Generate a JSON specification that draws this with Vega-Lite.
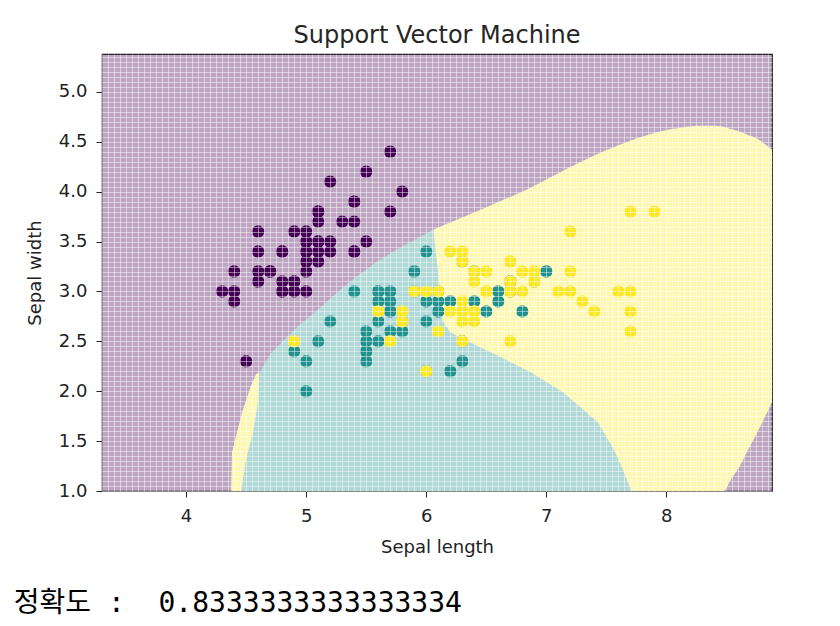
{
  "$schema": "https://vega.github.io/schema/vega-lite/v6.json",
  "padding": {"left": 13, "top": 23, "right": 40, "bottom": 5},
  "background": "white",
  "config": {
    "view": {"fill": "#bea6c3", "stroke": "#222222", "strokeWidth": 1.2},
    "font": "DejaVu Sans",
    "axis": {"labelFont": "DejaVu Sans", "titleFont": "DejaVu Sans"}
  },
  "title": {
    "text": "정확도 :\u00a0\u00a00.8333333333333334",
    "orient": "bottom",
    "anchor": "start",
    "font": "DejaVu Sans Mono, Noto Sans CJK KR",
    "fontSize": 28,
    "fontWeight": "normal",
    "color": "#000000",
    "offset": 33,
    "dx": -12
  },
  "datasets": {
    "regions": [
      {"region": "yellow", "x": 6.06, "hi": 3.62, "lo": 1.0},
      {"region": "yellow", "x": 6.28, "hi": 3.73, "lo": 1.0},
      {"region": "yellow", "x": 6.53, "hi": 3.86, "lo": 1.0},
      {"region": "yellow", "x": 6.87, "hi": 4.04, "lo": 1.0},
      {"region": "yellow", "x": 7.14, "hi": 4.21, "lo": 1.0},
      {"region": "yellow", "x": 7.45, "hi": 4.39, "lo": 1.0},
      {"region": "yellow", "x": 7.7, "hi": 4.51, "lo": 1.0},
      {"region": "yellow", "x": 7.975, "hi": 4.61, "lo": 1.0},
      {"region": "yellow", "x": 8.12, "hi": 4.64, "lo": 1.0},
      {"region": "yellow", "x": 8.26, "hi": 4.66, "lo": 1.0},
      {"region": "yellow", "x": 8.39, "hi": 4.66, "lo": 1.0},
      {"region": "yellow", "x": 8.48, "hi": 4.65, "lo": 1.0},
      {"region": "yellow", "x": 8.53, "hi": 4.63, "lo": 1.1},
      {"region": "yellow", "x": 8.617, "hi": 4.6, "lo": 1.26},
      {"region": "yellow", "x": 8.675, "hi": 4.57, "lo": 1.4},
      {"region": "yellow", "x": 8.758, "hi": 4.53, "lo": 1.59},
      {"region": "yellow", "x": 8.783, "hi": 4.51, "lo": 1.65},
      {"region": "yellow", "x": 8.88, "hi": 4.42, "lo": 1.89},
      {"region": "sliver", "x": 4.375, "hi": 1.0, "lo": 1.0},
      {"region": "sliver", "x": 4.383, "hi": 1.39, "lo": 1.0},
      {"region": "sliver", "x": 4.467, "hi": 1.79, "lo": 1.0},
      {"region": "sliver", "x": 4.542, "hi": 2.06, "lo": 1.0},
      {"region": "sliver", "x": 4.583, "hi": 2.17, "lo": 1.0},
      {"region": "sliver", "x": 4.61, "hi": 2.19, "lo": 1.0},
      {"region": "teal", "x": 4.46, "hi": 1.0, "lo": 1.0},
      {"region": "teal", "x": 4.5, "hi": 1.32, "lo": 1.0},
      {"region": "teal", "x": 4.56, "hi": 1.6, "lo": 1.0},
      {"region": "teal", "x": 4.6, "hi": 1.9, "lo": 1.0},
      {"region": "teal", "x": 4.61, "hi": 2.18, "lo": 1.0},
      {"region": "teal", "x": 4.7, "hi": 2.37, "lo": 1.0},
      {"region": "teal", "x": 4.83, "hi": 2.53, "lo": 1.0},
      {"region": "teal", "x": 4.95, "hi": 2.67, "lo": 1.0},
      {"region": "teal", "x": 5.1, "hi": 2.82, "lo": 1.0},
      {"region": "teal", "x": 5.25, "hi": 2.98, "lo": 1.0},
      {"region": "teal", "x": 5.41, "hi": 3.14, "lo": 1.0},
      {"region": "teal", "x": 5.58, "hi": 3.29, "lo": 1.0},
      {"region": "teal", "x": 5.74, "hi": 3.41, "lo": 1.0},
      {"region": "teal", "x": 5.91, "hi": 3.52, "lo": 1.0},
      {"region": "teal", "x": 6.06, "hi": 3.62, "lo": 1.0},
      {"region": "teal", "x": 6.08, "hi": 3.39, "lo": 1.0},
      {"region": "teal", "x": 6.1, "hi": 3.19, "lo": 1.0},
      {"region": "teal", "x": 6.12, "hi": 2.94, "lo": 1.0},
      {"region": "teal", "x": 6.135, "hi": 2.71, "lo": 1.0},
      {"region": "teal", "x": 6.2, "hi": 2.59, "lo": 1.0},
      {"region": "teal", "x": 6.31, "hi": 2.52, "lo": 1.0},
      {"region": "teal", "x": 6.59, "hi": 2.36, "lo": 1.0},
      {"region": "teal", "x": 6.87, "hi": 2.19, "lo": 1.0},
      {"region": "teal", "x": 7.14, "hi": 1.99, "lo": 1.0},
      {"region": "teal", "x": 7.43, "hi": 1.69, "lo": 1.0},
      {"region": "teal", "x": 7.56, "hi": 1.42, "lo": 1.0},
      {"region": "teal", "x": 7.63, "hi": 1.24, "lo": 1.0},
      {"region": "teal", "x": 7.71, "hi": 1.0, "lo": 1.0}
    ],
    "iris": [
      {"sl": 5.1, "sw": 3.5, "c": 0}, {"sl": 4.9, "sw": 3.0, "c": 0}, {"sl": 4.7, "sw": 3.2, "c": 0}, {"sl": 4.6, "sw": 3.1, "c": 0}, {"sl": 5.0, "sw": 3.6, "c": 0},
      {"sl": 5.4, "sw": 3.9, "c": 0}, {"sl": 4.6, "sw": 3.4, "c": 0}, {"sl": 5.0, "sw": 3.4, "c": 0}, {"sl": 4.4, "sw": 2.9, "c": 0}, {"sl": 4.9, "sw": 3.1, "c": 0},
      {"sl": 5.4, "sw": 3.7, "c": 0}, {"sl": 4.8, "sw": 3.4, "c": 0}, {"sl": 4.8, "sw": 3.0, "c": 0}, {"sl": 4.3, "sw": 3.0, "c": 0}, {"sl": 5.8, "sw": 4.0, "c": 0},
      {"sl": 5.7, "sw": 4.4, "c": 0}, {"sl": 5.4, "sw": 3.9, "c": 0}, {"sl": 5.1, "sw": 3.5, "c": 0}, {"sl": 5.7, "sw": 3.8, "c": 0}, {"sl": 5.1, "sw": 3.8, "c": 0},
      {"sl": 5.4, "sw": 3.4, "c": 0}, {"sl": 5.1, "sw": 3.7, "c": 0}, {"sl": 4.6, "sw": 3.6, "c": 0}, {"sl": 5.1, "sw": 3.3, "c": 0}, {"sl": 4.8, "sw": 3.4, "c": 0},
      {"sl": 5.0, "sw": 3.0, "c": 0}, {"sl": 5.0, "sw": 3.4, "c": 0}, {"sl": 5.2, "sw": 3.5, "c": 0}, {"sl": 5.2, "sw": 3.4, "c": 0}, {"sl": 4.7, "sw": 3.2, "c": 0},
      {"sl": 4.8, "sw": 3.1, "c": 0}, {"sl": 5.4, "sw": 3.4, "c": 0}, {"sl": 5.2, "sw": 4.1, "c": 0}, {"sl": 5.5, "sw": 4.2, "c": 0}, {"sl": 4.9, "sw": 3.1, "c": 0},
      {"sl": 5.0, "sw": 3.2, "c": 0}, {"sl": 5.5, "sw": 3.5, "c": 0}, {"sl": 4.9, "sw": 3.6, "c": 0}, {"sl": 4.4, "sw": 3.0, "c": 0}, {"sl": 5.1, "sw": 3.4, "c": 0},
      {"sl": 5.0, "sw": 3.5, "c": 0}, {"sl": 4.5, "sw": 2.3, "c": 0}, {"sl": 4.4, "sw": 3.2, "c": 0}, {"sl": 5.0, "sw": 3.5, "c": 0}, {"sl": 5.1, "sw": 3.8, "c": 0},
      {"sl": 4.8, "sw": 3.0, "c": 0}, {"sl": 5.1, "sw": 3.8, "c": 0}, {"sl": 4.6, "sw": 3.2, "c": 0}, {"sl": 5.3, "sw": 3.7, "c": 0}, {"sl": 5.0, "sw": 3.3, "c": 0},
      {"sl": 7.0, "sw": 3.2, "c": 1}, {"sl": 6.4, "sw": 3.2, "c": 1}, {"sl": 6.9, "sw": 3.1, "c": 1}, {"sl": 5.5, "sw": 2.3, "c": 1}, {"sl": 6.5, "sw": 2.8, "c": 1},
      {"sl": 5.7, "sw": 2.8, "c": 1}, {"sl": 6.3, "sw": 3.3, "c": 1}, {"sl": 4.9, "sw": 2.4, "c": 1}, {"sl": 6.6, "sw": 2.9, "c": 1}, {"sl": 5.2, "sw": 2.7, "c": 1},
      {"sl": 5.0, "sw": 2.0, "c": 1}, {"sl": 5.9, "sw": 3.0, "c": 1}, {"sl": 6.0, "sw": 2.2, "c": 1}, {"sl": 6.1, "sw": 2.9, "c": 1}, {"sl": 5.6, "sw": 2.9, "c": 1},
      {"sl": 6.7, "sw": 3.1, "c": 1}, {"sl": 5.6, "sw": 3.0, "c": 1}, {"sl": 5.8, "sw": 2.7, "c": 1}, {"sl": 6.2, "sw": 2.2, "c": 1}, {"sl": 5.6, "sw": 2.5, "c": 1},
      {"sl": 5.9, "sw": 3.2, "c": 1}, {"sl": 6.1, "sw": 2.8, "c": 1}, {"sl": 6.3, "sw": 2.5, "c": 1}, {"sl": 6.1, "sw": 2.8, "c": 1}, {"sl": 6.4, "sw": 2.9, "c": 1},
      {"sl": 6.6, "sw": 3.0, "c": 1}, {"sl": 6.8, "sw": 2.8, "c": 1}, {"sl": 6.7, "sw": 3.0, "c": 1}, {"sl": 6.0, "sw": 2.9, "c": 1}, {"sl": 5.7, "sw": 2.6, "c": 1},
      {"sl": 5.5, "sw": 2.4, "c": 1}, {"sl": 5.5, "sw": 2.4, "c": 1}, {"sl": 5.8, "sw": 2.7, "c": 1}, {"sl": 6.0, "sw": 2.7, "c": 1}, {"sl": 5.4, "sw": 3.0, "c": 1},
      {"sl": 6.0, "sw": 3.4, "c": 1}, {"sl": 6.7, "sw": 3.1, "c": 1}, {"sl": 6.3, "sw": 2.3, "c": 1}, {"sl": 5.6, "sw": 3.0, "c": 1}, {"sl": 5.5, "sw": 2.5, "c": 1},
      {"sl": 5.5, "sw": 2.6, "c": 1}, {"sl": 6.1, "sw": 3.0, "c": 1}, {"sl": 5.8, "sw": 2.6, "c": 1}, {"sl": 5.0, "sw": 2.3, "c": 1}, {"sl": 5.6, "sw": 2.7, "c": 1},
      {"sl": 5.7, "sw": 3.0, "c": 1}, {"sl": 5.7, "sw": 2.9, "c": 1}, {"sl": 6.2, "sw": 2.9, "c": 1}, {"sl": 5.1, "sw": 2.5, "c": 1}, {"sl": 5.7, "sw": 2.8, "c": 1},
      {"sl": 6.3, "sw": 3.3, "c": 2}, {"sl": 5.8, "sw": 2.7, "c": 2}, {"sl": 7.1, "sw": 3.0, "c": 2}, {"sl": 6.3, "sw": 2.9, "c": 2}, {"sl": 6.5, "sw": 3.0, "c": 2},
      {"sl": 7.6, "sw": 3.0, "c": 2}, {"sl": 4.9, "sw": 2.5, "c": 2}, {"sl": 7.3, "sw": 2.9, "c": 2}, {"sl": 6.7, "sw": 2.5, "c": 2}, {"sl": 7.2, "sw": 3.6, "c": 2},
      {"sl": 6.5, "sw": 3.2, "c": 2}, {"sl": 6.4, "sw": 2.7, "c": 2}, {"sl": 6.8, "sw": 3.0, "c": 2}, {"sl": 5.7, "sw": 2.5, "c": 2}, {"sl": 5.8, "sw": 2.8, "c": 2},
      {"sl": 6.4, "sw": 3.2, "c": 2}, {"sl": 6.5, "sw": 3.0, "c": 2}, {"sl": 7.7, "sw": 3.8, "c": 2}, {"sl": 7.7, "sw": 2.6, "c": 2}, {"sl": 6.0, "sw": 2.2, "c": 2},
      {"sl": 6.9, "sw": 3.2, "c": 2}, {"sl": 5.6, "sw": 2.8, "c": 2}, {"sl": 7.7, "sw": 2.8, "c": 2}, {"sl": 6.3, "sw": 2.7, "c": 2}, {"sl": 6.7, "sw": 3.3, "c": 2},
      {"sl": 7.2, "sw": 3.2, "c": 2}, {"sl": 6.2, "sw": 2.8, "c": 2}, {"sl": 6.1, "sw": 3.0, "c": 2}, {"sl": 6.4, "sw": 2.8, "c": 2}, {"sl": 7.2, "sw": 3.0, "c": 2},
      {"sl": 7.4, "sw": 2.8, "c": 2}, {"sl": 7.9, "sw": 3.8, "c": 2}, {"sl": 6.4, "sw": 2.8, "c": 2}, {"sl": 6.3, "sw": 2.8, "c": 2}, {"sl": 6.1, "sw": 2.6, "c": 2},
      {"sl": 7.7, "sw": 3.0, "c": 2}, {"sl": 6.3, "sw": 3.4, "c": 2}, {"sl": 6.4, "sw": 3.1, "c": 2}, {"sl": 6.0, "sw": 3.0, "c": 2}, {"sl": 6.9, "sw": 3.1, "c": 2},
      {"sl": 6.7, "sw": 3.1, "c": 2}, {"sl": 6.9, "sw": 3.1, "c": 2}, {"sl": 5.8, "sw": 2.7, "c": 2}, {"sl": 6.8, "sw": 3.2, "c": 2}, {"sl": 6.7, "sw": 3.3, "c": 2},
      {"sl": 6.7, "sw": 3.0, "c": 2}, {"sl": 6.3, "sw": 2.5, "c": 2}, {"sl": 6.5, "sw": 3.0, "c": 2}, {"sl": 6.2, "sw": 3.4, "c": 2}, {"sl": 5.9, "sw": 3.0, "c": 2}
    ]
  },
  "vconcat": [
    {
      "width": 670,
      "height": 437,
      "title": {"text": "Support Vector Machine", "fontSize": 24, "fontWeight": "normal", "color": "#262626", "frame": "group", "offset": 6, "font": "DejaVu Sans"},
      "resolve": {"axis": {"x": "independent", "y": "independent"}},
      "layer": [
        {
          "data": {"name": "regions"},
          "transform": [{"filter": "datum.region == 'yellow'"}],
          "mark": {"type": "area", "color": "#fef7b3", "opacity": 1, "interpolate": "monotone"},
          "encoding": {
            "x": {"field": "x", "type": "quantitative", "scale": {"domain": [3.3, 8.88], "nice": false, "zero": false}, "axis": null},
            "y": {"field": "hi", "type": "quantitative", "scale": {"domain": [1.0, 5.38], "nice": false, "zero": false}, "axis": null},
            "y2": {"field": "lo"}
          }
        },
        {
          "data": {"name": "regions"},
          "transform": [{"filter": "datum.region == 'sliver'"}],
          "mark": {"type": "area", "color": "#fef7b3", "opacity": 1},
          "encoding": {
            "x": {"field": "x", "type": "quantitative", "scale": {"domain": [3.3, 8.88], "nice": false, "zero": false}, "axis": null},
            "y": {"field": "hi", "type": "quantitative", "scale": {"domain": [1.0, 5.38], "nice": false, "zero": false}, "axis": null},
            "y2": {"field": "lo"}
          }
        },
        {
          "data": {"name": "regions"},
          "transform": [{"filter": "datum.region == 'teal'"}],
          "mark": {"type": "area", "color": "#b1d9d7", "opacity": 1},
          "encoding": {
            "x": {"field": "x", "type": "quantitative", "scale": {"domain": [3.3, 8.88], "nice": false, "zero": false},
              "axis": {"orient": "top", "grid": true, "gridColor": "#ffffff", "gridOpacity": 0.45, "gridWidth": 1, "labels": false, "ticks": false, "domain": false, "title": null, "tickCount": 112, "zindex": 1}},
            "y": {"field": "hi", "type": "quantitative", "scale": {"domain": [1.0, 5.38], "nice": false, "zero": false},
              "axis": {"orient": "right", "grid": true, "gridColor": "#ffffff", "gridOpacity": 0.45, "gridWidth": 1, "labels": false, "ticks": false, "domain": false, "title": null, "tickCount": 88, "zindex": 1}},
            "y2": {"field": "lo"}
          }
        },
        {
          "data": {"name": "iris"},
          "mark": {"type": "point", "filled": true, "size": 155, "opacity": 1, "strokeWidth": 0},
          "encoding": {
            "x": {"field": "sl", "type": "quantitative", "scale": {"domain": [3.3, 8.88], "nice": false, "zero": false},
              "axis": {"orient": "bottom", "values": [4, 5, 6, 7, 8], "grid": false, "domain": false, "title": "Sepal length", "tickSize": 6, "tickColor": "#222222", "labelPadding": 10, "labelFontSize": 18, "labelColor": "#222222", "titleFontSize": 18, "titleFontWeight": "normal", "titleColor": "#222222", "titlePadding": 13}},
            "y": {"field": "sw", "type": "quantitative", "scale": {"domain": [1.0, 5.38], "nice": false, "zero": false},
              "axis": {"orient": "left", "values": [1.0, 1.5, 2.0, 2.5, 3.0, 3.5, 4.0, 4.5, 5.0], "format": ".1f", "grid": false, "domain": false, "title": "Sepal width", "tickSize": 6, "tickColor": "#222222", "labelPadding": 9, "labelFontSize": 18, "labelColor": "#222222", "titleFontSize": 18, "titleFontWeight": "normal", "titleColor": "#222222", "titlePadding": 14}},
            "color": {"field": "c", "type": "nominal", "scale": {"domain": [0, 1, 2], "range": ["#440154", "#21918c", "#fde725"]}, "legend": null}
          }
        }
      ]
    }
  ]
}
